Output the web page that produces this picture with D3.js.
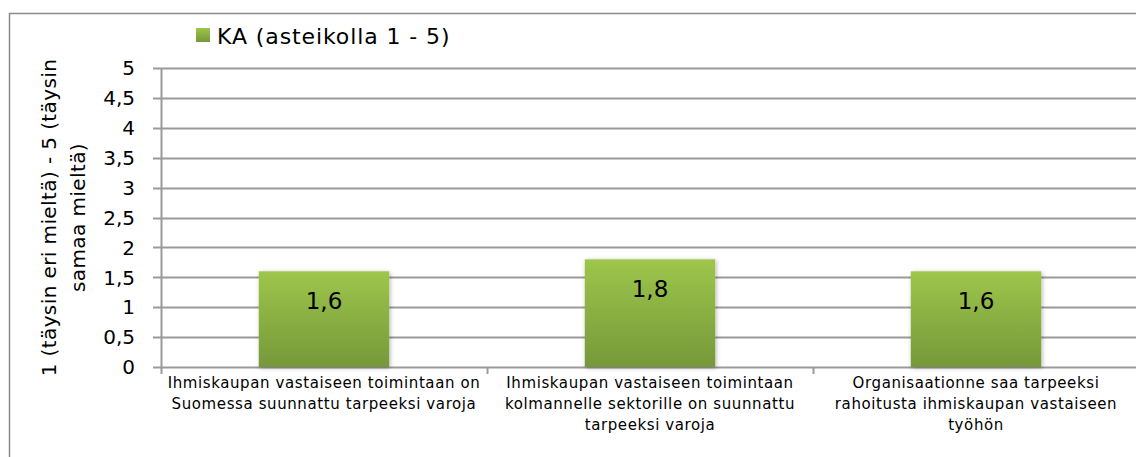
<!DOCTYPE html>
<html lang="fi">
<head>
<meta charset="UTF-8">
<script src="https://d3js.org/d3.v7.min.js"></script>
<style>
  body { margin: 0; background: #fff; }
  svg text { font-family: "DejaVu Sans", sans-serif; fill: #000; }
</style>
</head>
<body>
<div id="plot"></div>
<script>
// data
const categories = [
  ["Ihmiskaupan vastaiseen toimintaan on", "Suomessa suunnattu tarpeeksi varoja"],
  ["Ihmiskaupan vastaiseen toimintaan", "kolmannelle sektorille on suunnattu", "tarpeeksi varoja"],
  ["Organisaationne saa tarpeeksi", "rahoitusta ihmiskaupan vastaiseen", "työhön"]
];
const values = [1.6, 1.8, 1.6];
const yTicks = [0, 0.5, 1, 1.5, 2, 2.5, 3, 3.5, 4, 4.5, 5];
const seriesName = "KA (asteikolla 1 - 5)";
const yTitle = ["1 (täysin eri mieltä) - 5 (täysin", "samaa mieltä)"];

const width = 1136, height = 457;
const margin = {left: 161, top: 68, right: -3, bottom: 90};
const plotW = width - margin.left - margin.right;
const plotH = height - margin.top - margin.bottom;
const fmt = d => String(d).replace(".", ",");

const svg = d3.select("#plot").append("svg")
  .attr("width", width).attr("height", height);

const defs = svg.append("defs");
const grad = defs.append("linearGradient").attr("id", "barGrad")
  .attr("x1", 0).attr("y1", 0).attr("x2", 0).attr("y2", 1);
grad.append("stop").attr("offset", "0%").attr("stop-color", "#9dc64b");
grad.append("stop").attr("offset", "100%").attr("stop-color", "#76983a");
const filt = defs.append("filter").attr("id", "shadow")
  .attr("x", "-10%").attr("y", "-10%").attr("width", "130%").attr("height", "130%");
filt.append("feDropShadow").attr("dx", 1).attr("dy", 1).attr("stdDeviation", 2)
  .attr("flood-color", "#000").attr("flood-opacity", 0.3);

// chart area border (cropped at right and bottom)
svg.append("path")
  .attr("d", `M9.5,${height + 5} V13.5 H${width + 5}`)
  .attr("fill", "none").attr("stroke", "#8c8c8c").attr("stroke-width", 1.5);

const g = svg.append("g").attr("transform", `translate(${margin.left},${margin.top})`);

const y = d3.scaleLinear().domain([0, 5]).range([plotH, 0]);
const x = d3.scaleBand().domain(d3.range(categories.length)).range([0, plotW])
  .paddingInner(0.6).paddingOuter(0.3);
const xEdges = d3.scaleLinear().domain([0, categories.length]).range([0, plotW]);

// gridlines
g.append("g").selectAll("line").data(yTicks).join("line")
  .attr("x1", -8).attr("x2", plotW)
  .attr("y1", d => Math.round(y(d)) + 0.5).attr("y2", d => Math.round(y(d)) + 0.5)
  .attr("stroke", "#9a9a9a").attr("stroke-width", 2);

// y axis line
g.append("line").attr("x1", 0.5).attr("x2", 0.5).attr("y1", 0).attr("y2", plotH)
  .attr("stroke", "#9a9a9a").attr("stroke-width", 2);

// y tick labels
g.append("g").selectAll("text").data(yTicks).join("text")
  .attr("x", -26).attr("y", d => y(d)).attr("dy", "0.36em")
  .attr("text-anchor", "end").style("font-size", "20px")
  .text(fmt);

// x ticks
g.append("g").selectAll("line").data(d3.range(categories.length + 1)).join("line")
  .attr("x1", d => Math.round(xEdges(d)) + 0.5).attr("x2", d => Math.round(xEdges(d)) + 0.5)
  .attr("y1", plotH).attr("y2", plotH + 7)
  .attr("stroke", "#9a9a9a").attr("stroke-width", 2);

// bars
g.append("g").selectAll("rect").data(values).join("rect")
  .attr("x", (d, i) => x(i)).attr("width", x.bandwidth())
  .attr("y", d => y(d)).attr("height", d => plotH - y(d))
  .attr("fill", "url(#barGrad)").attr("filter", "url(#shadow)");

// value labels
g.append("g").selectAll("text").data(values).join("text")
  .attr("x", (d, i) => x(i) + x.bandwidth() / 2)
  .attr("y", d => y(d) + 38)
  .attr("text-anchor", "middle").style("font-size", "23px")
  .text(fmt);

// category labels
const cat = g.append("g").selectAll("text").data(categories).join("text")
  .attr("text-anchor", "middle").style("font-size", "15px").style("letter-spacing", "0.6px")
  .attr("transform", (d, i) => `translate(${x(i) + x.bandwidth() / 2},${plotH + 21})`);
cat.selectAll("tspan").data(d => d).join("tspan")
  .attr("x", 0).attr("y", (d, i) => i * 21).text(d => d);

// y axis title
const yt = svg.append("text").attr("text-anchor", "middle")
  .style("font-size", "20px").style("letter-spacing", "0.4px")
  .attr("transform", `translate(0,${margin.top + plotH / 2}) rotate(-90)`);
yt.selectAll("tspan").data(yTitle).join("tspan")
  .attr("x", 0).attr("y", (d, i) => 56 + i * 29).text(d => d);

// legend
const leg = svg.append("g").attr("transform", "translate(196,28)");
leg.append("rect").attr("width", 14).attr("height", 14).attr("fill", "url(#barGrad)");
leg.append("text").attr("x", 21).attr("y", 8).attr("dy", "0.36em")
  .style("font-size", "22px").style("letter-spacing", "0.9px").text(seriesName);
</script>
</body>
</html>
